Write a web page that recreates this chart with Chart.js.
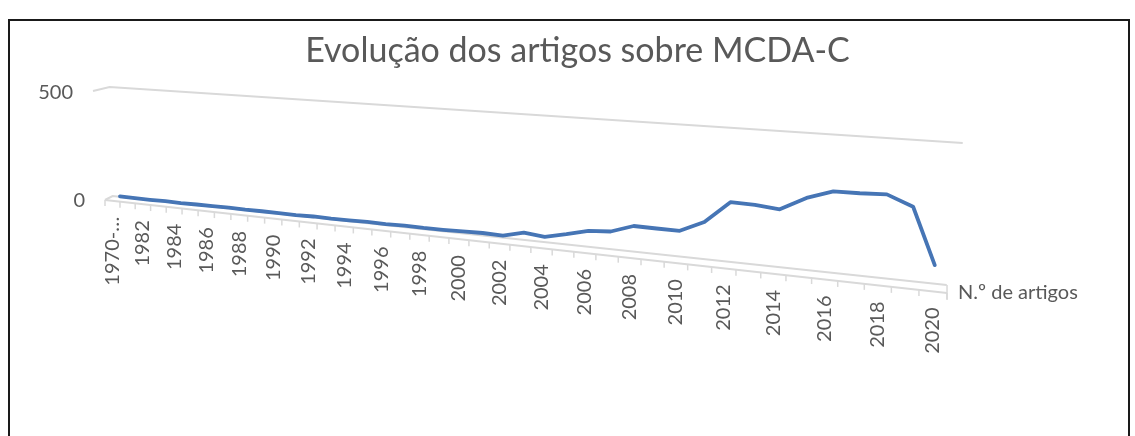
<!DOCTYPE html>
<html>
<head>
<meta charset="utf-8">
<script src="https://cdn.jsdelivr.net/npm/chart.js@4.4.0/dist/chart.umd.min.js"></script>
<style>
  html, body { margin: 0; padding: 0; background: #fff; }
  #wrap { position: relative; width: 1135px; height: 436px; overflow: hidden; }
  #frame { position: absolute; left: 8px; top: 19px; width: 1122px; height: 470px;
           border: 2px solid #1a1a1a; box-sizing: border-box; pointer-events: none; }
  canvas { position: absolute; left: 0; top: 0; }
</style>
</head>
<body>
<div id="wrap">
  <canvas id="chart" width="1135" height="436"></canvas>
  <div id="frame"></div>
</div>
<script>
// Dados
const chartTitle = 'Evolução dos artigos sobre MCDA-C';
const seriesName = 'N.º de artigos';
const categories = ['1970-…', '1981', '1982', '1983', '1984', '1985', '1986', '1987', '1988', '1989',
    '1990', '1991', '1992', '1993', '1994', '1995', '1996', '1997', '1998', '1999',
    '2000', '2001', '2002', '2003', '2004', '2005', '2006', '2007', '2008', '2009',
    '2010', '2011', '2012', '2013', '2014', '2015', '2016', '2017', '2018', '2019', '2020'];
const artigos = [2, 1, 1, 2, 1, 2, 2, 3, 2, 3,
    3, 2, 4, 3, 4, 5, 4, 6, 5, 6,
    8, 10, 8, 29, 21, 40, 62, 68, 98, 97,
    97, 139, 222, 220, 212, 262, 294, 295, 299, 263, 65];
const yTicks = [0, 500];

// Perspectiva aproximada do gráfico 3D (u = posição na categoria, v = valor normalizado)
const persp = {
    A: 571.6, B: 112.6, G: -0.2773,
    baseY0: 196, baseSlope: 0.1067,
    topY0: 87, topSlope: 0.06714,
    topShiftL: -3, topShiftR: 16,
    frontX0: 105, frontX1: 947, frontY0: 200, frontY1: 293
};

function backX(u) {
    return (persp.A * u + persp.B) / (1 + persp.G * u);
}

function project(u, v) {
    const x0 = backX(u);
    const d = x0 - persp.B;
    const yb = persp.baseY0 + persp.baseSlope * d;
    const yt = persp.topY0 + persp.topSlope * d;
    const shift = persp.topShiftL + (persp.topShiftR - persp.topShiftL) * u;
    return { x: x0 + v * shift, y: yb + (yt - yb) * v };
}

function frontPoint(u) {
    const x = backX(u) - 7.6 + 7.9 * u;
    const y = persp.frontY0 + (x - persp.frontX0) * (persp.frontY1 - persp.frontY0) / (persp.frontX1 - persp.frontX0);
    return { x: x, y: y };
}

function toUV(chart, px, py) {
    const a = chart.chartArea;
    return { u: (px - a.left) / (a.right - a.left), v: (a.bottom - py) / (a.bottom - a.top) };
}

const perspectivePlugin = {
    id: 'perspective',
    afterDatasetsUpdate(chart) {
        const meta = chart.getDatasetMeta(0);
        meta.data.forEach(pt => {
            const uv = toUV(chart, pt.x, pt.y);
            const p = project(uv.u, uv.v);
            pt.x = p.x;
            pt.y = p.y;
        });
    },
    beforeDatasetsDraw(chart) {
        const ctx = chart.ctx;
        const xs = chart.scales.x;
        const ys = chart.scales.y;
        ctx.save();
        ctx.strokeStyle = '#d9d9d9';
        ctx.lineWidth = 2;

        // linhas de grade: parede lateral + parede do fundo
        yTicks.forEach(t => {
            const v = toUV(chart, 0, ys.getPixelForValue(t)).v;
            const a = project(0, v);
            const b = project(1, v);
            ctx.beginPath();
            ctx.moveTo(105 - 12 * v, 200 - 109 * v);
            ctx.lineTo(a.x, a.y);
            ctx.lineTo(b.x, b.y);
            ctx.stroke();
        });

        // eixo das categorias (aresta da frente)
        const f0 = frontPoint(0), f1 = frontPoint(1);
        ctx.beginPath();
        ctx.moveTo(f0.x, f0.y);
        ctx.lineTo(f1.x, f1.y);
        ctx.stroke();

        ctx.lineWidth = 1.5;
        for (let k = 0; k <= categories.length; k++) {
            const u = toUV(chart, xs.getPixelForValue(k - 0.5), 0).u;
            const f = frontPoint(u);
            ctx.beginPath();
            ctx.moveTo(f.x, f.y);
            ctx.lineTo(f.x, f.y + 6);
            ctx.stroke();
        }
        ctx.beginPath();
        ctx.moveTo(f1.x, f1.y - 8);
        ctx.lineTo(f1.x, f1.y + 7);
        ctx.stroke();

        // rótulos
        ctx.fillStyle = '#595959';
        ctx.font = '20px Lato';
        categories.forEach((c, k) => {
            if (k % 2 !== 0) return;
            const u = toUV(chart, xs.getPixelForValue(k), 0).u;
            const f = frontPoint(u);
            ctx.save();
            ctx.translate(f.x, f.y + 16);
            ctx.rotate(-Math.PI / 2);
            ctx.textAlign = 'right';
            ctx.textBaseline = 'middle';
            ctx.fillText(c, 0, 0);
            ctx.restore();
        });

        ctx.textAlign = 'right';
        ctx.textBaseline = 'middle';
        yTicks.forEach(t => {
            const v = toUV(chart, 0, ys.getPixelForValue(t)).v;
            ctx.fillText(String(t), 105 - 12 * v - 20, 201 - 108 * v);
        });

        ctx.textAlign = 'left';
        ctx.fillText(seriesName, f1.x + 11, f1.y);
        ctx.restore();
    }
};

const ctx = document.getElementById('chart').getContext('2d');
new Chart(ctx, {
    type: 'line',
    data: {
        labels: categories,
        datasets: [{
            label: seriesName,
            data: artigos,
            borderColor: '#4675B5',
            borderWidth: 3.8,
            borderJoinStyle: 'round',
            borderCapStyle: 'round',
            pointRadius: 0,
            tension: 0,
            clip: false
        }]
    },
    options: {
        responsive: false,
        animation: false,
        events: [],
        layout: { padding: { left: 20, right: 0, top: 0, bottom: 0 } },
        plugins: {
            legend: { display: false },
            tooltip: { enabled: false },
            title: {
                display: true,
                text: chartTitle,
                color: '#595959',
                font: { family: 'Lato', size: 34, weight: 'normal' },
                padding: { top: 31, bottom: 10 }
            }
        },
        scales: {
            x: { display: false, offset: true },
            y: { display: false, min: 0, max: 500, ticks: { stepSize: 500 } }
        }
    },
    plugins: [perspectivePlugin]
});
</script>
</body>
</html>
